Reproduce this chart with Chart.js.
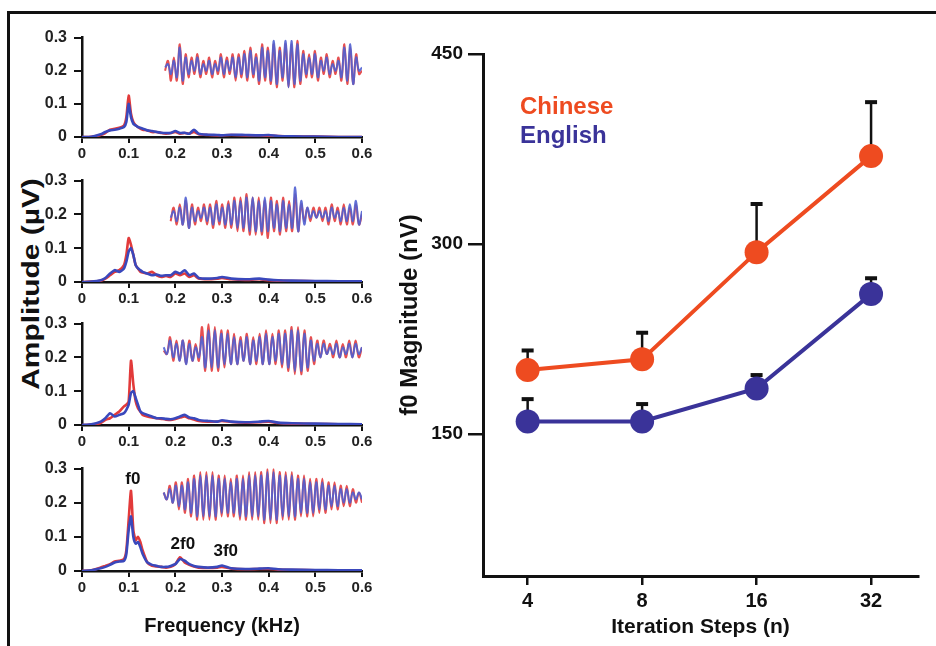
<!DOCTYPE html>
<html>
<head>
<meta charset="utf-8">
<script src="https://cdn.jsdelivr.net/npm/chart.js@4.4.1/dist/chart.umd.min.js"></script>
<style>
  html, body { margin: 0; padding: 0; background: #fff; }
  body { width: 936px; height: 646px; position: relative; overflow: hidden; font-family: 'Liberation Sans', Arial, sans-serif; }
  .frame { position: absolute; left: 7px; top: 11px; width: 950px; height: 660px; border-top: 3px solid #111; border-left: 3px solid #111; }
  .box { position: absolute; }
  #amp { position: absolute; left: 31px; top: 284px; transform: translate(-50%, -50%) rotate(-90deg) scaleX(1.3); font-weight: bold; font-size: 23px; white-space: nowrap; color: #111; }
</style>
</head>
<body>
<div class="frame"></div>
<div id="amp">Amplitude (µV)</div>
<div id="panels"></div>
<div class="box" style="left:396px; top:30px; width:534px; height:616px;"><canvas id="chartF0"></canvas></div>

<script>
// ---- spectra (frequency in kHz, amplitude in µV) ----
const FREQ = [0, 0.02, 0.04, 0.05, 0.06, 0.07, 0.08, 0.09, 0.095, 0.1,
  0.105, 0.11, 0.115, 0.12, 0.125, 0.13, 0.14, 0.15, 0.16, 0.17,
  0.18, 0.19, 0.2, 0.21, 0.22, 0.23, 0.24, 0.25, 0.27, 0.29,
  0.3, 0.32, 0.35, 0.38, 0.4, 0.42, 0.45, 0.5, 0.55, 0.6];

const SPEC1_BLUE = [0, 0.001, 0.008, 0.015, 0.02, 0.022, 0.025, 0.03, 0.045, 0.10,
  0.06, 0.04, 0.035, 0.03, 0.028, 0.025, 0.02, 0.018, 0.015, 0.013,
  0.012, 0.012, 0.018, 0.012, 0.013, 0.01, 0.022, 0.01, 0.007, 0.006,
  0.005, 0.007, 0.006, 0.005, 0.006, 0.003, 0.002, 0.001, 0, 0];
const SPEC1_RED = [0, 0.001, 0.006, 0.012, 0.022, 0.025, 0.028, 0.035, 0.06, 0.125,
  0.07, 0.045, 0.035, 0.03, 0.025, 0.022, 0.02, 0.015, 0.015, 0.012,
  0.01, 0.012, 0.015, 0.01, 0.012, 0.01, 0.015, 0.008, 0.006, 0.005,
  0.005, 0.006, 0.005, 0.005, 0.004, 0.003, 0.002, 0.001, 0, 0];
const SPEC2_BLUE = [0, 0.001, 0.005, 0.012, 0.025, 0.035, 0.03, 0.04, 0.06, 0.09,
  0.1, 0.08, 0.05, 0.04, 0.035, 0.03, 0.025, 0.02, 0.022, 0.018,
  0.02, 0.02, 0.03, 0.025, 0.035, 0.02, 0.025, 0.012, 0.01, 0.012,
  0.015, 0.01, 0.008, 0.01, 0.007, 0.005, 0.004, 0.003, 0.002, 0.002];
const SPEC2_RED = [0, 0.001, 0.004, 0.01, 0.02, 0.03, 0.035, 0.05, 0.08, 0.13,
  0.11, 0.08, 0.05, 0.04, 0.03, 0.028, 0.025, 0.03, 0.02, 0.015,
  0.018, 0.015, 0.025, 0.02, 0.025, 0.015, 0.02, 0.01, 0.008, 0.01,
  0.012, 0.008, 0.006, 0.008, 0.005, 0.004, 0.003, 0.002, 0.001, 0.001];
const SPEC3_BLUE = [0, 0.002, 0.01, 0.02, 0.035, 0.025, 0.03, 0.035, 0.045, 0.06,
  0.095, 0.1, 0.08, 0.06, 0.04, 0.035, 0.03, 0.025, 0.02, 0.02,
  0.018, 0.017, 0.02, 0.025, 0.03, 0.022, 0.02, 0.015, 0.012, 0.01,
  0.014, 0.01, 0.008, 0.01, 0.012, 0.007, 0.005, 0.004, 0.003, 0.002];
const SPEC3_RED = [0, 0.001, 0.006, 0.015, 0.02, 0.03, 0.04, 0.055, 0.06, 0.07,
  0.19, 0.12, 0.07, 0.05, 0.04, 0.03, 0.025, 0.022, 0.02, 0.018,
  0.016, 0.015, 0.018, 0.022, 0.025, 0.02, 0.016, 0.012, 0.01, 0.01,
  0.012, 0.009, 0.007, 0.008, 0.01, 0.006, 0.004, 0.003, 0.002, 0.001];
const SPEC4_BLUE = [0, 0.002, 0.008, 0.012, 0.018, 0.025, 0.028, 0.03, 0.05, 0.12,
  0.16, 0.1, 0.08, 0.085, 0.07, 0.05, 0.025, 0.018, 0.015, 0.012,
  0.012, 0.015, 0.02, 0.035, 0.03, 0.02, 0.015, 0.012, 0.01, 0.012,
  0.016, 0.008, 0.006, 0.007, 0.008, 0.005, 0.004, 0.003, 0.002, 0.002];
const SPEC4_RED = [0, 0.002, 0.01, 0.015, 0.02, 0.028, 0.03, 0.035, 0.06, 0.15,
  0.235, 0.12, 0.09, 0.1, 0.085, 0.06, 0.025, 0.015, 0.013, 0.012,
  0.01, 0.012, 0.02, 0.04, 0.025, 0.018, 0.013, 0.01, 0.009, 0.01,
  0.012, 0.007, 0.005, 0.006, 0.006, 0.004, 0.003, 0.002, 0.001, 0.001];

// ---- inset waveforms (one sample per turning point, plotted around 0.2 µV) ----
const WAVE1_BLUE = [0.21, 0.22, 0.19, 0.23, 0.18, 0.27, 0.17, 0.24, 0.19, 0.23,
  0.20, 0.24, 0.19, 0.22, 0.20, 0.23, 0.19, 0.22, 0.20, 0.24,
  0.19, 0.23, 0.20, 0.24, 0.18, 0.24, 0.19, 0.25, 0.18, 0.26,
  0.19, 0.24, 0.17, 0.27, 0.18, 0.26, 0.17, 0.29, 0.16, 0.26,
  0.18, 0.29, 0.15, 0.29, 0.16, 0.28, 0.17, 0.25, 0.19, 0.24,
  0.19, 0.25, 0.18, 0.23, 0.20, 0.24, 0.19, 0.22, 0.20, 0.23,
  0.18, 0.27, 0.17, 0.28, 0.16, 0.24, 0.20, 0.21];
const WAVE1_RED = [0.20, 0.23, 0.17, 0.24, 0.17, 0.28, 0.16, 0.25, 0.18, 0.24,
  0.19, 0.25, 0.18, 0.23, 0.19, 0.24, 0.18, 0.23, 0.19, 0.25,
  0.18, 0.24, 0.19, 0.25, 0.17, 0.25, 0.18, 0.26, 0.17, 0.27,
  0.18, 0.25, 0.16, 0.28, 0.17, 0.27, 0.16, 0.28, 0.15, 0.27,
  0.17, 0.28, 0.15, 0.28, 0.15, 0.29, 0.16, 0.26, 0.18, 0.25,
  0.18, 0.26, 0.17, 0.24, 0.19, 0.25, 0.18, 0.23, 0.19, 0.24,
  0.17, 0.28, 0.16, 0.27, 0.16, 0.25, 0.19, 0.20];
const WAVE2_BLUE = [0.19, 0.21, 0.18, 0.22, 0.17, 0.25, 0.16, 0.22, 0.18, 0.21,
  0.19, 0.22, 0.18, 0.22, 0.17, 0.23, 0.18, 0.22, 0.17, 0.23,
  0.17, 0.24, 0.16, 0.24, 0.16, 0.25, 0.15, 0.25, 0.15, 0.24,
  0.15, 0.25, 0.15, 0.24, 0.16, 0.23, 0.15, 0.24, 0.16, 0.23,
  0.16, 0.28, 0.15, 0.24, 0.17, 0.22, 0.19, 0.21, 0.19, 0.21,
  0.19, 0.21, 0.18, 0.22, 0.19, 0.21, 0.18, 0.22, 0.18, 0.23,
  0.18, 0.24, 0.17, 0.21];
const WAVE2_RED = [0.18, 0.22, 0.17, 0.23, 0.17, 0.24, 0.16, 0.23, 0.17, 0.22,
  0.18, 0.23, 0.17, 0.23, 0.16, 0.24, 0.17, 0.23, 0.16, 0.24,
  0.16, 0.25, 0.15, 0.25, 0.15, 0.26, 0.14, 0.25, 0.14, 0.25,
  0.14, 0.24, 0.13, 0.25, 0.15, 0.24, 0.14, 0.25, 0.15, 0.24,
  0.15, 0.26, 0.15, 0.23, 0.18, 0.22, 0.18, 0.22, 0.19, 0.22,
  0.18, 0.22, 0.17, 0.23, 0.18, 0.22, 0.17, 0.23, 0.17, 0.22,
  0.17, 0.23, 0.17, 0.20];
const WAVE3_BLUE = [0.23, 0.21, 0.25, 0.20, 0.24, 0.19, 0.25, 0.18, 0.24, 0.19,
  0.23, 0.20, 0.26, 0.17, 0.28, 0.17, 0.28, 0.17, 0.27, 0.18,
  0.27, 0.18, 0.26, 0.18, 0.25, 0.19, 0.26, 0.18, 0.25, 0.19,
  0.26, 0.18, 0.27, 0.18, 0.26, 0.19, 0.27, 0.18, 0.27, 0.17,
  0.28, 0.16, 0.28, 0.16, 0.27, 0.17, 0.25, 0.19, 0.24, 0.20,
  0.24, 0.21, 0.23, 0.21, 0.24, 0.20, 0.23, 0.21, 0.24, 0.20,
  0.24, 0.21, 0.23];
const WAVE3_RED = [0.22, 0.21, 0.26, 0.19, 0.25, 0.19, 0.25, 0.18, 0.25, 0.19,
  0.24, 0.19, 0.29, 0.16, 0.30, 0.16, 0.29, 0.16, 0.28, 0.17,
  0.28, 0.18, 0.27, 0.18, 0.26, 0.19, 0.27, 0.18, 0.26, 0.18,
  0.27, 0.18, 0.28, 0.18, 0.27, 0.18, 0.28, 0.17, 0.28, 0.16,
  0.29, 0.15, 0.29, 0.15, 0.28, 0.16, 0.26, 0.18, 0.25, 0.20,
  0.25, 0.21, 0.24, 0.20, 0.25, 0.20, 0.24, 0.20, 0.25, 0.20,
  0.25, 0.20, 0.23];
const WAVE4_BLUE = [0.23, 0.21, 0.24, 0.20, 0.25, 0.19, 0.25, 0.18, 0.26, 0.17,
  0.27, 0.16, 0.28, 0.16, 0.28, 0.16, 0.28, 0.16, 0.27, 0.17,
  0.27, 0.17, 0.26, 0.17, 0.27, 0.16, 0.27, 0.16, 0.28, 0.16,
  0.28, 0.16, 0.28, 0.15, 0.29, 0.15, 0.29, 0.15, 0.28, 0.16,
  0.28, 0.16, 0.28, 0.16, 0.27, 0.17, 0.27, 0.17, 0.26, 0.17,
  0.26, 0.18, 0.26, 0.18, 0.25, 0.19, 0.25, 0.19, 0.24, 0.20,
  0.24, 0.20, 0.23, 0.21, 0.23, 0.21];
const WAVE4_RED = [0.23, 0.21, 0.25, 0.20, 0.26, 0.18, 0.26, 0.17, 0.27, 0.16,
  0.28, 0.15, 0.29, 0.15, 0.29, 0.15, 0.29, 0.15, 0.28, 0.16,
  0.28, 0.16, 0.27, 0.16, 0.28, 0.15, 0.28, 0.15, 0.29, 0.15,
  0.29, 0.15, 0.29, 0.14, 0.30, 0.14, 0.30, 0.14, 0.29, 0.15,
  0.29, 0.15, 0.29, 0.15, 0.28, 0.16, 0.28, 0.16, 0.27, 0.16,
  0.27, 0.17, 0.27, 0.17, 0.26, 0.18, 0.26, 0.18, 0.25, 0.19,
  0.25, 0.19, 0.24, 0.20, 0.23, 0.20];

// harmonic labels on the last panel
const HARM_LABELS = ['f0', '2f0', '3f0'];
const HARM_FREQ = [0.109, 0.216, 0.308];
const HARM_AMP = [0.27, 0.078, 0.059];

// ---- f0 magnitude vs iteration steps ----
const STEPS = ['4', '8', '16', '32'];
const CHINESE = [200.5, 209, 293.6, 369.4];
const CHINESE_ERR = [15.5, 21, 38, 42.6];
const ENGLISH = [160, 160, 186, 260.5];
const ENGLISH_ERR = [17.6, 13.7, 10.6, 12.5];
const F0_TICKS = [150, 300, 450];

const RED = '#e23a3a';
const BLUE = '#3a48bc';
const WAVE_RED = 'rgba(228, 60, 60, 0.9)';
const WAVE_BLUE = 'rgba(80, 96, 210, 0.9)';
const ORANGE = '#ee4b20';
const NAVY = '#3a3399';
const INK = '#111';

Chart.defaults.font.family = "'Liberation Sans', Arial, sans-serif";
Chart.defaults.color = INK;
Chart.defaults.animation = false;

// layout of the four small panels (pixel positions of 0.3 and the panel height)
const PANEL_TOP = [33, 176, 319, 464];
const PANEL_H = [104, 106, 106, 107];
const WAVE_START = [0.178, 0.19, 0.175, 0.175];

const panels = [
    { blue: SPEC1_BLUE, red: SPEC1_RED, wBlue: WAVE1_BLUE, wRed: WAVE1_RED },
    { blue: SPEC2_BLUE, red: SPEC2_RED, wBlue: WAVE2_BLUE, wRed: WAVE2_RED },
    { blue: SPEC3_BLUE, red: SPEC3_RED, wBlue: WAVE3_BLUE, wRed: WAVE3_RED },
    { blue: SPEC4_BLUE, red: SPEC4_RED, wBlue: WAVE4_BLUE, wRed: WAVE4_RED }
];

const harmonicLabels = {
    id: 'harmonicLabels',
    afterDatasetsDraw(chart, args, opts) {
        if (!opts.show) return;
        const { ctx, scales: { x, y } } = chart;
        ctx.save();
        ctx.font = "bold 17px 'Liberation Sans', Arial, sans-serif";
        ctx.fillStyle = INK;
        ctx.textAlign = 'center';
        ctx.textBaseline = 'middle';
        HARM_LABELS.forEach((t, i) => {
            ctx.fillText(t, x.getPixelForValue(HARM_FREQ[i]), y.getPixelForValue(HARM_AMP[i]));
        });
        ctx.restore();
    }
};

const tick1 = v => (v === 0 ? '0' : Number(v).toFixed(1));

function renderPanel(i) {
    const p = panels[i];
    const last = i === panels.length - 1;
    const axisH = last ? 75 : 26;
    const padTop = 12;

    const box = document.createElement('div');
    box.className = 'box';
    box.style.left = '20px';
    box.style.top = (PANEL_TOP[i] - padTop) + 'px';
    box.style.width = '356px';
    box.style.height = (padTop + PANEL_H[i] + axisH) + 'px';
    const canvas = document.createElement('canvas');
    box.appendChild(canvas);
    document.getElementById('panels').appendChild(box);

    const n = p.wBlue.length - 1;
    const s = WAVE_START[i];

    new Chart(canvas.getContext('2d'), {
        type: 'line',
        data: {
            datasets: [
                { data: p.wBlue.map((v, k) => ({ x: k, y: v })), xAxisID: 'xw', borderColor: WAVE_BLUE, borderWidth: 2, tension: 0.4 },
                { data: p.wRed.map((v, k) => ({ x: k, y: v })), xAxisID: 'xw', borderColor: WAVE_RED, borderWidth: 2, tension: 0.4 },
                { data: FREQ.map((f, k) => ({ x: f, y: p.blue[k] })), borderColor: BLUE, borderWidth: 2.6, tension: 0.2 },
                { data: FREQ.map((f, k) => ({ x: f, y: p.red[k] })), borderColor: RED, borderWidth: 2.6, tension: 0.2 }
            ]
        },
        options: {
            responsive: true,
            maintainAspectRatio: false,
            layout: { padding: { top: padTop, right: 14, left: 0, bottom: 0 } },
            elements: { point: { radius: 0 } },
            plugins: {
                legend: { display: false },
                tooltip: { enabled: false },
                harmonicLabels: { show: last }
            },
            scales: {
                x: {
                    type: 'linear', min: 0, max: 0.6,
                    afterFit: sc => { sc.height = axisH; },
                    border: { color: INK, width: 2.5 },
                    grid: { drawOnChartArea: false, drawTicks: true, tickLength: 6, color: INK, lineWidth: 2 },
                    ticks: { stepSize: 0.1, padding: 2, color: '#222', font: { size: 15, weight: 'bold' }, callback: tick1, maxRotation: 0 },
                    title: { display: last, text: 'Frequency (kHz)', color: INK, font: { size: 20, weight: 'bold' }, padding: { top: 0, bottom: 8 } }
                },
                xw: {
                    type: 'linear', display: false,
                    min: -n * s / (0.6 - s), max: n
                },
                y: {
                    min: 0, max: 0.3,
                    afterFit: sc => { sc.width = 62; },
                    border: { color: INK, width: 2.5 },
                    grid: { drawOnChartArea: false, drawTicks: true, tickLength: 8, color: INK, lineWidth: 2 },
                    ticks: { stepSize: 0.1, padding: 7, color: '#222', font: { size: 16, weight: 'bold' }, callback: tick1 }
                }
            }
        },
        plugins: [harmonicLabels]
    });
}

panels.forEach((p, i) => renderPanel(i));

// ---- right chart ----
const errorBars = {
    id: 'errorBars',
    beforeDatasetsDraw(chart) {
        const { ctx, scales: { y } } = chart;
        ctx.save();
        ctx.strokeStyle = INK;
        chart.data.datasets.forEach((ds, i) => {
            chart.getDatasetMeta(i).data.forEach((pt, j) => {
                const top = y.getPixelForValue(ds.data[j].y + ds.errUp[j]);
                ctx.lineWidth = 2.5;
                ctx.beginPath();
                ctx.moveTo(pt.x, pt.y);
                ctx.lineTo(pt.x, top);
                ctx.stroke();
                ctx.lineWidth = 4;
                ctx.beginPath();
                ctx.moveTo(pt.x - 6, top);
                ctx.lineTo(pt.x + 6, top);
                ctx.stroke();
            });
        });
        ctx.restore();
    }
};

const insideLegend = {
    id: 'insideLegend',
    afterDatasetsDraw(chart) {
        const { ctx, chartArea } = chart;
        ctx.save();
        ctx.font = "bold 24px 'Liberation Sans', Arial, sans-serif";
        ctx.textBaseline = 'middle';
        chart.data.datasets.forEach((ds, i) => {
            ctx.fillStyle = ds.borderColor;
            ctx.fillText(ds.label, chartArea.left + 37, chartArea.top + 53 + i * 29);
        });
        ctx.restore();
    }
};

new Chart(document.getElementById('chartF0').getContext('2d'), {
    type: 'line',
    data: {
        datasets: [
            {
                label: 'Chinese',
                data: CHINESE.map((v, i) => ({ x: i, y: v })),
                errUp: CHINESE_ERR,
                borderColor: ORANGE, backgroundColor: ORANGE,
                borderWidth: 4, pointRadius: 12, pointBorderWidth: 0, pointBackgroundColor: ORANGE
            },
            {
                label: 'English',
                data: ENGLISH.map((v, i) => ({ x: i, y: v })),
                errUp: ENGLISH_ERR,
                borderColor: NAVY, backgroundColor: NAVY,
                borderWidth: 4, pointRadius: 12, pointBorderWidth: 0, pointBackgroundColor: NAVY
            }
        ]
    },
    options: {
        responsive: true,
        maintainAspectRatio: false,
        layout: { padding: { top: 24, right: 10, left: 0, bottom: 0 } },
        plugins: {
            legend: { display: false },
            tooltip: { enabled: false }
        },
        scales: {
            x: {
                type: 'linear', min: -0.39, max: 3.41,
                afterBuildTicks: sc => { sc.ticks = STEPS.map((s, i) => ({ value: i })); },
                afterFit: sc => { sc.height = 70; },
                border: { color: INK, width: 3 },
                grid: { drawOnChartArea: false, drawTicks: true, tickLength: 9, color: INK, lineWidth: 2.5 },
                ticks: { padding: 4, color: INK, font: { size: 20, weight: 'bold' }, callback: v => STEPS[v], maxRotation: 0 },
                title: { display: true, text: 'Iteration Steps (n)', color: INK, font: { size: 21, weight: 'bold' }, padding: { top: 0, bottom: 6 } }
            },
            y: {
                min: 38, max: 450,
                afterBuildTicks: sc => { sc.ticks = F0_TICKS.map(v => ({ value: v })); },
                afterFit: sc => { sc.width = 87; },
                border: { color: INK, width: 3 },
                grid: { drawOnChartArea: false, drawTicks: true, tickLength: 15, color: INK, lineWidth: 2.5 },
                ticks: { padding: 5, color: INK, font: { size: 19, weight: 'bold' } },
                title: { display: true, text: 'f0 Magnitude (nV)', color: INK, font: { size: 24, weight: 'bold' }, padding: 0 }
            }
        }
    },
    plugins: [errorBars, insideLegend]
});
</script>
</body>
</html>
